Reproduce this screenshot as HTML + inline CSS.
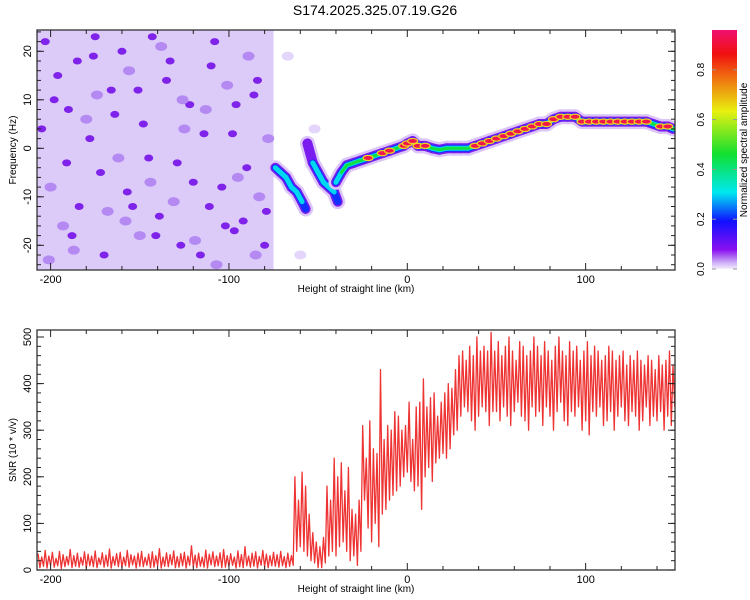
<!DOCTYPE html>
<html><head><meta charset="utf-8">
<style>
html,body{margin:0;padding:0;background:#fff;}
svg{display:block;font-family:"Liberation Sans",sans-serif;}
</style></head>
<body>
<svg id="chart" width="750" height="600" viewBox="0 0 750 600" xmlns="http://www.w3.org/2000/svg">
<defs>
<linearGradient id="cbar" x1="0" y1="1" x2="0" y2="0">
<stop offset="0" stop-color="#f4eefc"/>
<stop offset="0.03" stop-color="#c9a6f6"/>
<stop offset="0.08" stop-color="#8a10f0"/>
<stop offset="0.2" stop-color="#1010ff"/>
<stop offset="0.32" stop-color="#00e8f0"/>
<stop offset="0.48" stop-color="#10e030"/>
<stop offset="0.66" stop-color="#e8f010"/>
<stop offset="0.8" stop-color="#f07010"/>
<stop offset="0.9" stop-color="#f01010"/>
<stop offset="1" stop-color="#f01070"/>
</linearGradient>
<clipPath id="clipTop"><rect x="37" y="30" width="638" height="240"/></clipPath>
<clipPath id="clipBot"><rect x="37" y="330" width="638" height="240"/></clipPath>
</defs>
<text x="375" y="15" font-size="14" text-anchor="middle">S174.2025.325.07.19.G26</text>
<g id="top"></g>
<g id="bot"></g>
<g id="cb"></g>
</svg>
<script>
// ---- data ----
const xTicks = [-200, -100, 0, 100];
const freqTicks = [-20, -10, 0, 10, 20];
const snrTicks = [0, 100, 200, 300, 400, 500];
const cbTicks = [0.0, 0.2, 0.4, 0.6, 0.8];
const noiseEdgeKm = -75;
const noiseKm = [-203,-196,-190,-185,-178,-172,-166,-160,-154,-148,-141,-135,-129,-122,-116,-110,-104,-98,-92,-86,-80,
 -200,-193,-187,-180,-174,-168,-162,-156,-150,-144,-138,-131,-125,-119,-113,-107,-101,-95,-89,-83,-78,
 -205,-198,-191,-184,-176,-170,-164,-157,-151,-145,-139,-133,-127,-120,-114,-108,-102,-96,-90,-84,-79,
 -201,-188,-175,-158,-143,-126,-111,-97,-85,-67,-60,-52];
const noiseHz = [22,15,8,18,2,-5,12,20,-12,5,-18,14,-3,9,-22,17,-8,3,-15,11,-20,
 -8,-16,-21,6,11,-13,-2,16,-18,-7,21,-11,4,-19,8,-24,13,-6,19,-10,2,
 4,10,-3,-12,19,-22,7,-9,12,-2,-14,18,-20,-7,3,22,-16,9,-4,14,-13,
 -23,-18,23,-15,23,10,-12,-17,-22,19,-22,4];
const noiseAmp = [0.12,0.1,0.14,0.11,0.13,0.12,0.1,0.13,0.14,0.11,0.12,0.13,0.1,0.14,0.12,0.11,0.13,0.12,0.14,0.11,0.12,
 0.07,0.08,0.06,0.08,0.07,0.09,0.06,0.08,0.07,0.09,0.06,0.08,0.07,0.09,0.06,0.08,0.07,0.09,0.06,0.08,0.07,
 0.12,0.13,0.11,0.14,0.12,0.1,0.13,0.11,0.14,0.12,0.1,0.13,0.11,0.12,0.14,0.1,0.13,0.12,0.11,0.14,0.12,
 0.08,0.13,0.12,0.09,0.14,0.08,0.12,0.13,0.09,0.04,0.04,0.04];
const branchAKm = [-74,-71,-68,-65,-62,-59,-57];
const branchAHz = [-4,-5,-6,-8,-9,-11,-12.5];
const branchAAmp = [0.3,0.35,0.3,0.4,0.35,0.3,0.2];
const branchBKm = [-56,-53,-50,-47,-44,-41,-39];
const branchBHz = [1,-3,-5,-7,-8,-9,-11];
const branchBAmp = [0.15,0.3,0.35,0.3,0.3,0.35,0.2];
const ridgeKm = [-40,-37,-34,-30,-26,-22,-18,-14,-10,-6,-2,0,3,6,10,14,18,22,26,30,34,38,42,46,50,54,58,62,66,70,74,78,82,86,90,94,98,102,106,110,114,118,122,126,130,134,138,142,146,149];
const ridgeHz = [-7,-5,-3.5,-3,-2.5,-2,-1.5,-1,-0.5,0,0.5,1,1.5,0.5,0.5,0,-0.3,0,0,0,0,0.5,1,1.5,2,2.5,3,3.5,4,4.5,5,5,6,6.5,6.5,6.5,5.5,5.5,5.5,5.5,5.5,5.5,5.5,5.5,5.5,5.5,5,4.5,4.5,4];
const ridgeAmp = [0.35,0.45,0.55,0.6,0.7,0.85,0.7,0.85,0.85,0.7,0.8,0.85,0.8,0.85,0.85,0.7,0.6,0.5,0.5,0.5,0.6,0.8,0.8,0.8,0.85,0.8,0.85,0.85,0.85,0.85,0.85,0.8,0.85,0.9,0.9,0.8,0.85,0.9,0.9,0.9,0.9,0.9,0.9,0.85,0.9,0.85,0.6,0.85,0.85,0.7];
const snrStartKm = -207;
const snrStepKm = 2;
const snrMax = [35,28,42,30,38,25,40,33,29,44,31,36,27,39,34,30,41,26,37,32,45,29,35,38,28,42,33,30,36,40,27,34,39,31,46,28,37,33,41,29,35,38,30,52,32,36,28,43,34,39,30,37,44,31,35,28,41,33,50,30,36,39,29,42,34,31,38,33,40,29,36,31,
 200,150,210,180,120,
 80,60,50,70,
 180,150,240,200,230,170,220,
 130,120,150,
 310,240,320,260,250,430,280,310,300,340,
 330,300,310,360,280,350,360,
 410,350,370,380,330,360,380,400,390,430,
 460,470,450,480,460,500,470,480,470,510,
 470,490,460,480,500,470,450,490,480,460,470,500,480,460,490,470,450,480,500,470,460,490,470,480,450,470,490,460,480,470,450,460,480,470,450,460,470,440,460,450,470,450,440,460,450,430,460,440,450,470,440];
const snrMin = [5,8,4,10,6,9,3,7,11,5,8,6,10,4,9,7,5,12,6,8,4,10,7,5,9,6,11,4,8,7,10,5,6,9,4,8,7,11,5,6,9,4,10,7,5,8,6,4,11,7,9,5,6,8,10,4,7,5,9,6,8,4,10,7,5,9,8,6,9,5,8,10,
 40,50,40,30,20,
 15,5,5,15,
 30,40,30,50,60,40,20,
 30,10,40,
 150,90,60,100,50,120,130,150,160,170,
 180,200,210,190,170,180,130,
 200,220,190,230,240,250,240,260,290,300,
 330,350,340,320,300,330,350,340,310,340,
 340,320,350,330,310,340,360,330,320,300,350,330,340,310,350,330,300,340,360,320,310,340,330,350,300,320,290,340,330,350,310,320,340,300,330,350,320,310,340,330,300,320,350,310,330,320,340,300,330,310,350];

// ---- scales ----
const X0 = 37, X1 = 675;
const xS = km => 407.3 + km * 1.7835;
const yF = hz => 148.3 - hz * 4.85;
const yS = v => 570 - v * 0.466;
const yC = a => 269 - a * 249;
const NS = "http://www.w3.org/2000/svg";
function mk(tag, attrs, parent, txt) {
  const e = document.createElementNS(NS, tag);
  for (const k in attrs) e.setAttribute(k, attrs[k]);
  if (txt !== undefined) e.textContent = txt;
  parent.appendChild(e);
  return e;
}
const topG = document.getElementById('top');
const botG = document.getElementById('bot');
const cbG = document.getElementById('cb');

// ---- spectrogram ----
const heat = mk('g', {'clip-path': 'url(#clipTop)'}, topG);


const bg = mk('rect', {x: X0, y: 30, width: xS(noiseEdgeKm) - X0, height: 240, fill: '#dccaf8'}, heat);


for (let i = 0; i < noiseKm.length; i++) {
  const a = noiseAmp[i];
  const col = a >= 0.1 ? '#7f22ea' : (a >= 0.06 ? '#b48af2' : '#e4d6fb');
  const c = mk('ellipse', {cx: xS(noiseKm[i]), cy: yF(noiseHz[i]), rx: a >= 0.1 ? 4.5 : 6, ry: a >= 0.1 ? 3.5 : 4.5, fill: col}, heat);
  
  
}
const layers = [[0, '#dcc6f8', 15], [0.1, '#7a1cf0', 10], [0.2, '#1030ff', 7], [0.3, '#00d8f0', 5], [0.45, '#10e040', 3]];
function drawRidge(kms, hzs, amps, name) {
  const g = mk('g', {}, heat);
  
  
  for (const [th, col, w] of layers) {
    for (let i = 0; i < kms.length - 1; i++) {
      const a = Math.min(amps[i], amps[i + 1]);
      if (a < th) continue;
      mk('line', {x1: xS(kms[i]), y1: yF(hzs[i]), x2: xS(kms[i + 1]), y2: yF(hzs[i + 1]), stroke: col, 'stroke-width': w, 'stroke-linecap': 'round'}, g);
    }
  }
  for (let i = 0; i < kms.length; i++) {
    if (amps[i] < 0.8) continue;
    const e = mk('ellipse', {cx: xS(kms[i]), cy: yF(hzs[i]), rx: 5, ry: 2.6, fill: '#f0184a', stroke: '#f0d820', 'stroke-width': 1.2}, g);
    
    
  }
}
drawRidge(branchAKm, branchAHz, branchAAmp, 'ridge-branch-a');
drawRidge(branchBKm, branchBHz, branchBAmp, 'ridge-branch-b');
drawRidge(ridgeKm, ridgeHz, ridgeAmp, 'ridge-main');

// ---- SNR ----
const snrG = mk('g', {'clip-path': 'url(#clipBot)'}, botG);
let pts = [];
for (let i = 0; i < snrMax.length; i++) {
  const km = snrStartKm + i * snrStepKm;
  pts.push(xS(km).toFixed(1) + ',' + yS(snrMax[i]).toFixed(1));
  pts.push(xS(km + snrStepKm / 2).toFixed(1) + ',' + yS(snrMin[i]).toFixed(1));
}
const snrLine = mk('polyline', {points: pts.join(' '), fill: 'none', stroke: '#ee3333', 'stroke-width': 1.3, 'stroke-linejoin': 'round'}, snrG);



// ---- axes ----
function frame(parent, yTop, yBot, yTicksArr, yScale, minorVals, xLabelY, yTitle, yTitleCy) {
  const r = mk('rect', {x: X0, y: yTop, width: X1 - X0, height: yBot - yTop, fill: 'none', stroke: '#333', 'stroke-width': 1.3}, parent);
  
  
  for (let km = -200; km <= 140; km += 20) {
    const x = xS(km);
    const big = km % 100 === 0 ? 7 : 4;
    mk('line', {x1: x, y1: yBot, x2: x, y2: yBot - big, stroke: '#222'}, parent);
    mk('line', {x1: x, y1: yTop, x2: x, y2: yTop + big, stroke: '#222'}, parent);
  }
  for (const t of xTicks) {
    const tl = mk('text', {x: xS(t), y: xLabelY, 'font-size': 11, 'text-anchor': 'middle'}, parent, String(t));
    
    
  }
  const xt = mk('text', {x: 356, y: xLabelY + 9, 'font-size': 10, 'text-anchor': 'middle'}, parent, 'Height of straight line (km)');
  
  
  for (const v of minorVals) {
    const y = yScale(v);
    mk('line', {x1: X0, y1: y, x2: X0 + 4, y2: y, stroke: '#222'}, parent);
    mk('line', {x1: X1, y1: y, x2: X1 - 4, y2: y, stroke: '#222'}, parent);
  }
  for (const t of yTicksArr) {
    const y = yScale(t);
    mk('line', {x1: X0, y1: y, x2: X0 + 7, y2: y, stroke: '#222'}, parent);
    mk('line', {x1: X1, y1: y, x2: X1 - 7, y2: y, stroke: '#222'}, parent);
    const tl = mk('text', {x: 0, y: 0, 'font-size': 11, 'text-anchor': 'middle', transform: 'translate(31,' + y + ') rotate(-90)'}, parent, String(t));
    
    
  }
  const yt = mk('text', {x: 0, y: 0, 'font-size': 10, 'text-anchor': 'middle', transform: 'translate(16,' + yTitleCy + ') rotate(-90)'}, parent, yTitle);
  
  
}
const fMinor = []; for (let v = -24; v <= 24; v += 2) fMinor.push(v);
const sMinor = []; for (let v = 0; v <= 500; v += 20) sMinor.push(v);
frame(topG, 30, 270, freqTicks, yF, fMinor, 283, 'Frequency (Hz)', 150);
frame(botG, 330, 570, snrTicks, yS, sMinor, 583, 'SNR (10 * v/v)', 450);

// ---- colorbar ----
const cbr = mk('rect', {x: 712, y: 30, width: 25, height: 239, fill: 'url(#cbar)'}, cbG);


for (const t of cbTicks) {
  const y = yC(t);
  mk('line', {x1: 712, y1: y, x2: 716, y2: y, stroke: '#999'}, cbG);
  mk('line', {x1: 737, y1: y, x2: 733, y2: y, stroke: '#999'}, cbG);
  const tl = mk('text', {x: 0, y: 0, 'font-size': 10, 'text-anchor': 'middle', transform: 'translate(704,' + y + ') rotate(-90)'}, cbG, t.toFixed(1));
  
  
}
const cbt = mk('text', {x: 0, y: 0, 'font-size': 10, 'text-anchor': 'middle', transform: 'translate(747,150) rotate(-90)'}, cbG, 'Normalized spectral amplitude');


</script>
</body></html>
